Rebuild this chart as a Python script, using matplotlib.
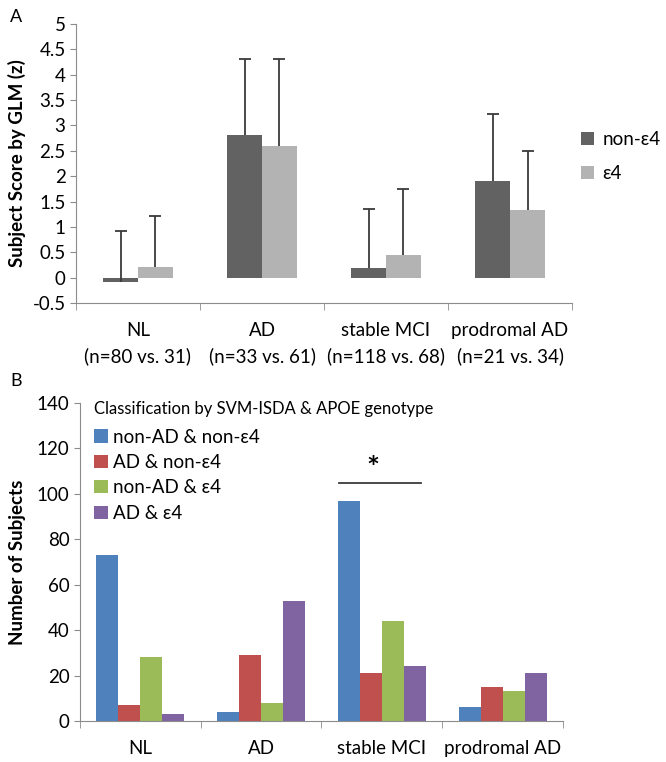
import numpy as np
import matplotlib
matplotlib.use("Agg")
import matplotlib.pyplot as plt

plt.rcParams['font.family'] = ['Lato', 'DejaVu Sans']

# Panel A data
cats_a = ['NL\n(n=80 vs. 31)', 'AD\n(n=33 vs. 61)', 'stable MCI\n(n=118 vs. 68)', 'prodromal AD\n(n=21 vs. 34)']
non_e4 = [-0.08, 2.81, 0.18, 1.91]
e4 = [0.20, 2.60, 0.45, 1.33]
non_e4_err = [1.00, 1.50, 1.17, 1.31]
e4_err = [1.02, 1.71, 1.30, 1.17]

# Panel B data
cats_b = ['NL', 'AD', 'stable MCI', 'prodromal AD']
b_labels = ['non-AD & non-\u03b54', 'AD & non-\u03b54', 'non-AD & \u03b54', 'AD & \u03b54']
b_vals = [
    [73, 4, 97, 6],
    [7, 29, 21, 15],
    [28, 8, 44, 13],
    [3, 53, 24, 21],
]
b_colors = ['#4F81BD', '#C0504D', '#9BBB59', '#8064A2']

spine_col = '#8c8c8c'
err_col = '#3a3a3a'

fig = plt.figure(figsize=(6.66, 7.62), dpi=100)

def style_axes(ax):
    for s in ['top', 'right']:
        ax.spines[s].set_visible(False)
    for s in ['left', 'bottom']:
        ax.spines[s].set_color(spine_col)
    ax.tick_params(axis='y', colors=spine_col, labelcolor='black', length=4, labelsize=13.5)
    ax.tick_params(axis='x', which='major', length=0, labelsize=13.5, pad=14)
    ax.tick_params(axis='x', which='minor', length=5, colors=spine_col, direction='out')
    ax.set_xlim(-0.5, 3.5)
    ax.set_xticks(np.arange(-0.5, 4, 1), minor=True)

def up_err(ax, xs, vals, errs):
    tops = np.array(vals) + np.array(errs)
    ax.vlines(xs, vals, tops, color=err_col, lw=1.3, zorder=3)
    ax.plot(xs, tops, ls='none', marker='_', ms=8, mew=1.3, color=err_col, zorder=3)

# ---- Panel A ----
axa = fig.add_axes([0.1141, 0.6024, 0.7448, 0.3661])
x = np.arange(len(cats_a))
w = 0.282
axa.bar(x - w/2, non_e4, w, color='#626262', label='non-\u03b54')
axa.bar(x + w/2, e4, w, color='#b3b3b3', label='\u03b54')
up_err(axa, x - w/2, non_e4, non_e4_err)
up_err(axa, x + w/2, e4, e4_err)
axa.set_ylim(-0.5, 5)
yt = np.arange(-0.5, 5.01, 0.5)
axa.set_yticks(yt)
axa.set_yticklabels(['%g' % v for v in yt])
style_axes(axa)
axa.set_xticks(x)
axa.set_xticklabels(cats_a, linespacing=1.55)
axa.set_ylabel('Subject Score by GLM (z)', fontsize=13.5, fontweight='bold', labelpad=5)
axa.legend(loc='upper left', bbox_to_anchor=(0.872, 0.828), bbox_transform=fig.transFigure,
           frameon=False, fontsize=13.5, handlelength=0.7, handleheight=0.7,
           handletextpad=0.45, labelspacing=0.9, borderaxespad=0, borderpad=0)
fig.text(0.015, 0.988, 'A', fontsize=13, va='top')

# ---- Panel B ----
axb = fig.add_axes([0.1201, 0.0538, 0.7252, 0.4173])
wb = 0.182
offsets = (np.arange(4) - 1.5) * wb
for i in range(4):
    axb.bar(x + offsets[i], b_vals[i], wb, color=b_colors[i], label=b_labels[i])
axb.set_ylim(0, 140)
axb.set_yticks(np.arange(0, 141, 20))
style_axes(axb)
axb.set_xticks(x)
axb.set_xticklabels(cats_b)
axb.set_ylabel('Number of Subjects', fontsize=13.5, fontweight='bold', labelpad=8)
leg = axb.legend(loc='upper left', bbox_to_anchor=(0.03, 1.005), frameon=False,
                 title='Classification by SVM-ISDA & APOE genotype', title_fontsize=12,
                 fontsize=13.5, handlelength=0.7, handleheight=0.7, handletextpad=0.3,
                 labelspacing=0.45, borderaxespad=0, borderpad=0, alignment='left')
leg._legend_box.sep = 8
# significance bar over stable MCI
axb.plot([1.645, 2.324], [105, 105], color=err_col, lw=1.3)
axb.text(1.93, 105, '*', ha='center', va='bottom', fontsize=22, fontweight='bold')
fig.text(0.015, 0.50, 'B', fontsize=13, va='center')

fig.savefig('out.png', dpi=100)
